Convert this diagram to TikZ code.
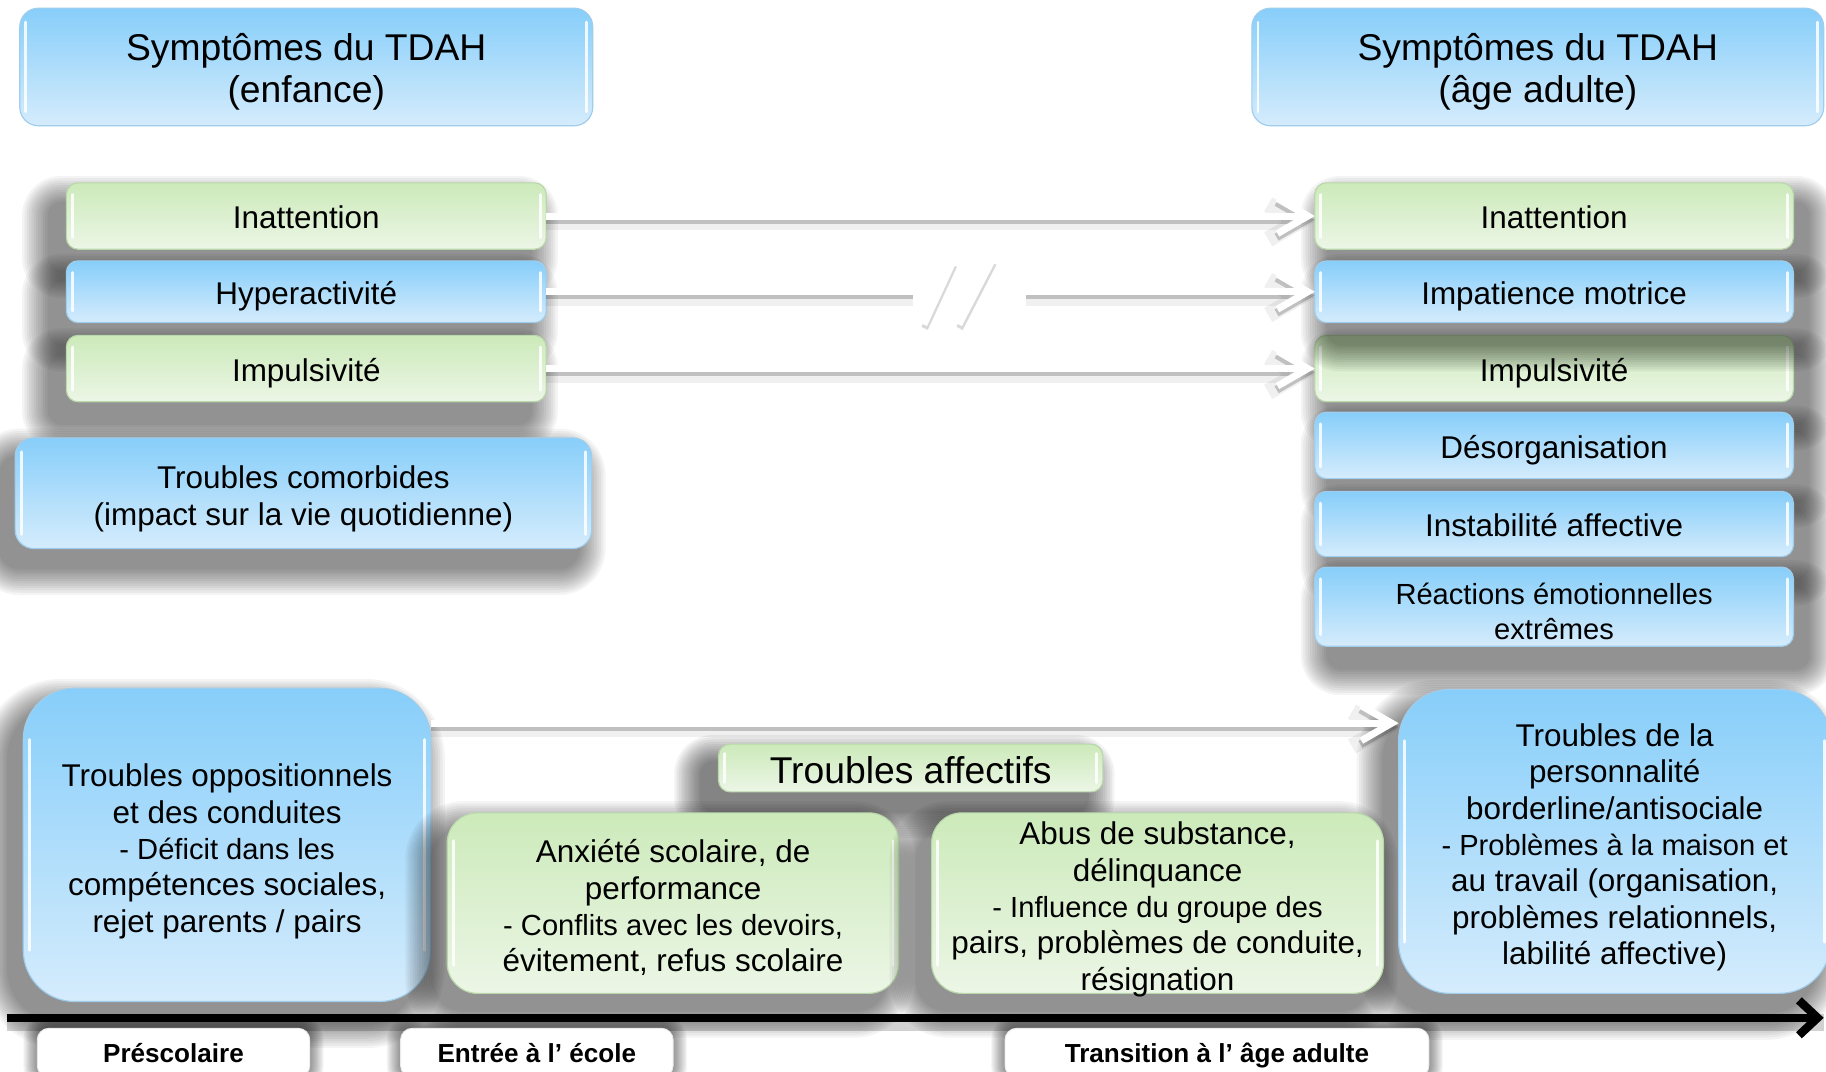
\documentclass[tikz,border=0pt]{standalone}
\usepackage{fontspec}
\setmainfont{Liberation Sans}
\usetikzlibrary{arrows.meta}
\definecolor{bluetop}{RGB}{135,206,250}
\definecolor{bluebot}{RGB}{213,236,252}
\definecolor{blueedge}{RGB}{160,205,235}
\definecolor{greentop}{RGB}{204,234,186}
\definecolor{greenbot}{RGB}{236,246,230}
\definecolor{greenedge}{RGB}{185,215,170}
\newcommand\fntT{\fontsize{16}{18}\selectfont}
\newcommand\fntL{\fontsize{13.5}{16}\selectfont}
\newcommand\fntS{\fontsize{12.5}{15.6}\selectfont}
\newcommand\fntR{\fontsize{12.5}{15}\selectfont}
\newcommand\fntH{\fontsize{13.5}{15.6}\selectfont}
\newcommand\fntB{\bfseries\fontsize{11.2}{13}\selectfont}
% #1 shape style, #2 name, #3-#6 corners, #7 text style, #8 text
\newcommand\mkbox[8]{%
  \pgfmathsetmacro\mkW{abs(#5-#3)/2}%
  \pgfmathsetmacro\mkH{abs(#6-#4)/2}%
  \node[#1, inner sep=0pt, outer sep=0pt, minimum width=\mkW pt, minimum height=\mkH pt] (#2) at ({(#3+#5)/2},{(#4+#6)/2}) {};
  \node[align=center, inner sep=0pt, outer sep=0pt, text=black, #7] (#2t) at (#2.center) {#8};}
% soft shadow: x1 y1 x2 y2 dx dy radius(units) step(units) opacity
\newcommand\sshadow[9]{%
  \foreach \i in {0,...,11}{%
    \pgfmathsetmacro\ssE{(12-\i)*#8}%
    \pgfmathsetmacro\ssR{(#7+\ssE)/2}%
    \fill[black,opacity=#9,rounded corners=\ssR pt] ({#1+#5-\ssE},{#2+#6-\ssE}) rectangle ({#3+#5+\ssE},{#4+#6+\ssE});
  }}
\begin{document}
\begin{tikzpicture}[x=0.5pt,y=-0.5pt,
  bluefill/.style={top color=bluetop, bottom color=bluebot, draw=blueedge, line width=0.5pt},
  greenfill/.style={top color=greentop, bottom color=greenbot, draw=greenedge, line width=0.5pt},
  gloss/.style={path picture={\draw[white,opacity=.85,line width=1.2pt,line cap=round]
    ([shift={(2.6pt,-#1)}]path picture bounding box.north west) -- ([shift={(2.6pt,#1)}]path picture bounding box.south west)
    ([shift={(-2.6pt,-#1)}]path picture bounding box.north east) -- ([shift={(-2.6pt,#1)}]path picture bounding box.south east);}},
  gloss/.default=5pt,
  lbl/.style={fill=white, draw=black!8, rounded corners=5pt},
  oneL/.style={font=\fntL, text height=13.5pt, text depth=2.4pt},
  oneB/.style={font=\fntB, text height=10pt, text depth=2pt},
  wline/.style={draw=white, line width=3pt},
  wtip/.style={-{Straight Barb[length=13pt,width=15pt]}},
  wshadow/.style={draw=black, opacity=0.2, line width=3.4pt, transform canvas={yshift=-1.6pt}},
  wshadow2/.style={draw=black, opacity=0.06, line width=7pt, transform canvas={yshift=-2.5pt}}
]
\fill[white] (0,0) rectangle (1568,920);
\useasboundingbox (0,0) rectangle (1568,920);

% titles
\mkbox{bluefill,gloss=6pt,rounded corners=8pt}{TL}{17}{7}{509}{108}{font=\fntT,yshift=-2pt}{Symptômes du TDAH\\(enfance)}
\mkbox{bluefill,gloss=6pt,rounded corners=8pt}{TR}{1075}{7}{1566}{108}{font=\fntT,yshift=-2pt}{Symptômes du TDAH\\(âge adulte)}

% left list
\sshadow{57}{157}{469}{214}{-14}{18}{10}{2}{0.042}
\mkbox{greenfill,gloss,rounded corners=5pt}{L1}{57}{157}{469}{214}{oneL}{Inattention}
\sshadow{57}{224}{469}{277}{-14}{18}{10}{2}{0.042}
\mkbox{bluefill,gloss,rounded corners=5pt}{L2}{57}{224}{469}{277}{oneL}{Hyperactivité}
\sshadow{57}{288}{469}{345}{-14}{18}{10}{2}{0.042}
\mkbox{greenfill,gloss,rounded corners=5pt}{L3}{57}{288}{469}{345}{oneL}{Impulsivité}
\sshadow{13}{376}{508}{471}{-12}{16}{16}{2}{0.042}
\mkbox{bluefill,gloss=6pt,rounded corners=8pt}{CO}{13}{376}{508}{471}{font=\fntL,yshift=-2.5pt}{Troubles comorbides\\(impact sur la vie quotidienne)}

% right list
\sshadow{1129}{157}{1540}{214}{12}{18}{10}{2}{0.042}
\mkbox{greenfill,gloss,rounded corners=5pt}{R1}{1129}{157}{1540}{214}{oneL}{Inattention}
\sshadow{1129}{288}{1540}{345}{12}{18}{10}{2}{0.042}
\mkbox{greenfill,gloss,rounded corners=5pt}{R3}{1129}{288}{1540}{345}{oneL}{Impulsivité}
\sshadow{1129}{224}{1540}{277}{12}{18}{10}{2}{0.042}
\mkbox{bluefill,gloss,rounded corners=5pt}{R2}{1129}{224}{1540}{277}{oneL}{Impatience motrice}
\sshadow{1129}{354}{1540}{411}{12}{18}{10}{2}{0.042}
\mkbox{bluefill,gloss,rounded corners=5pt}{R4}{1129}{354}{1540}{411}{oneL}{Désorganisation}
\sshadow{1129}{422}{1540}{478}{12}{18}{10}{2}{0.042}
\mkbox{bluefill,gloss,rounded corners=5pt}{R5}{1129}{422}{1540}{478}{oneL}{Instabilité affective}
\sshadow{1129}{487}{1540}{555}{12}{18}{10}{2}{0.042}
\mkbox{bluefill,gloss,rounded corners=5pt}{R6}{1129}{487}{1540}{555}{font=\fntR,yshift=-2pt}{Réactions émotionnelles\\extrêmes}

% arrows between lists
\foreach \a/\b in {L1/R1,L3/R3}{
  \draw[wshadow2,wtip] (\a.east) -- (\b.west);
  \draw[wshadow,wtip] (\a.east) -- (\b.west);
  \draw[wline,wtip] (\a.east) -- (\b.west);
}
\coordinate (k1) at (784,250.5);
\coordinate (k2) at (881,250.5);
\draw[wshadow2] (L2.east) -- (k1);
\draw[wshadow] (L2.east) -- (k1);
\draw[wline] (L2.east) -- (k1);
\draw[wshadow2,wtip] (k2) -- (R2.west);
\draw[wshadow,wtip] (k2) -- (R2.west);
\draw[wline,wtip] (k2) -- (R2.west);
\coordinate (s1a) at (794,279); \coordinate (s1b) at (819,225);
\coordinate (s2a) at (824,279); \coordinate (s2b) at (853,223);
\draw[draw=black,opacity=.15,line width=3pt,transform canvas={yshift=-1.5pt}] (s1a) -- (s1b) (s2a) -- (s2b);
\draw[draw=white,line width=2.2pt] (s1a) -- (s1b) (s2a) -- (s2b);

% bottom row
\sshadow{20}{591}{370}{860}{-12}{16}{44}{2}{0.042}
\mkbox{bluefill,gloss=22pt,rounded corners=22pt}{OP}{20}{591}{370}{860}{font=\fntH,yshift=-2.75pt}{Troubles oppositionnels\\et des conduites\\\fntS - Déficit dans les\\compétences sociales,\\rejet parents / pairs}
\sshadow{1201}{592}{1572}{853}{-12}{16}{44}{2}{0.042}
\mkbox{bluefill,gloss=22pt,rounded corners=22pt}{BL}{1201}{592}{1572}{853}{font=\fntH,yshift=-2.5pt}{Troubles de la\\personnalité\\borderline/antisociale\\\fntS - Problèmes à la maison et\\au travail (organisation,\\problèmes relationnels,\\labilité affective)}
\coordinate (y4) at (0,621);
\draw[wshadow2,wtip] (OP.east |- y4) -- (BL.west |- y4);
\draw[wshadow,wtip] (OP.east |- y4) -- (BL.west |- y4);
\draw[wline,wtip] (OP.east |- y4) -- (BL.west |- y4);
\sshadow{617}{639}{947}{680}{-14}{16}{10}{2}{0.05}
\mkbox{greenfill,gloss=4pt,rounded corners=5pt}{AF}{617}{639}{947}{680}{font=\fntT,text height=16pt,text depth=3pt}{Troubles affectifs}
\sshadow{384}{698}{772}{853}{-12}{14}{26}{2}{0.042}
\mkbox{greenfill,gloss=12pt,rounded corners=13pt}{AX}{384}{698}{772}{853}{font=\fntH,yshift=-2pt}{Anxiété scolaire, de\\performance\\\fntS - Conflits avec les devoirs,\\évitement, refus scolaire}
\sshadow{800}{698}{1188}{853}{-12}{14}{26}{2}{0.042}
\mkbox{greenfill,gloss=12pt,rounded corners=13pt}{AB}{800}{698}{1188}{853}{font=\fntH,yshift=-2.75pt}{Abus de substance,\\délinquance\\\fntS - Influence du groupe des\\pairs, problèmes de conduite,\\résignation}

% timeline
\coordinate (t0) at (6,874);
\coordinate (t1) at (1566,874);
\draw[black,opacity=.18,line width=7pt,transform canvas={yshift=-2pt}] (t0) -- (t1);
\draw[black,line width=3.6pt,-{Straight Barb[length=8pt,width=15pt]}] (t0) -- (t1);

% labels
\sshadow{32}{883}{266}{925}{0}{0}{10}{1}{0.04}
\mkbox{lbl}{P1}{32}{883}{266}{925}{oneB}{Préscolaire}
\sshadow{344}{883}{578}{925}{0}{0}{10}{1}{0.04}
\mkbox{lbl}{P2}{344}{883}{578}{925}{oneB}{Entrée à l’ école}
\sshadow{863}{883}{1227}{925}{0}{0}{10}{1}{0.04}
\mkbox{lbl}{P3}{863}{883}{1227}{925}{oneB}{Transition à l’ âge adulte}
\end{tikzpicture}
\end{document}
